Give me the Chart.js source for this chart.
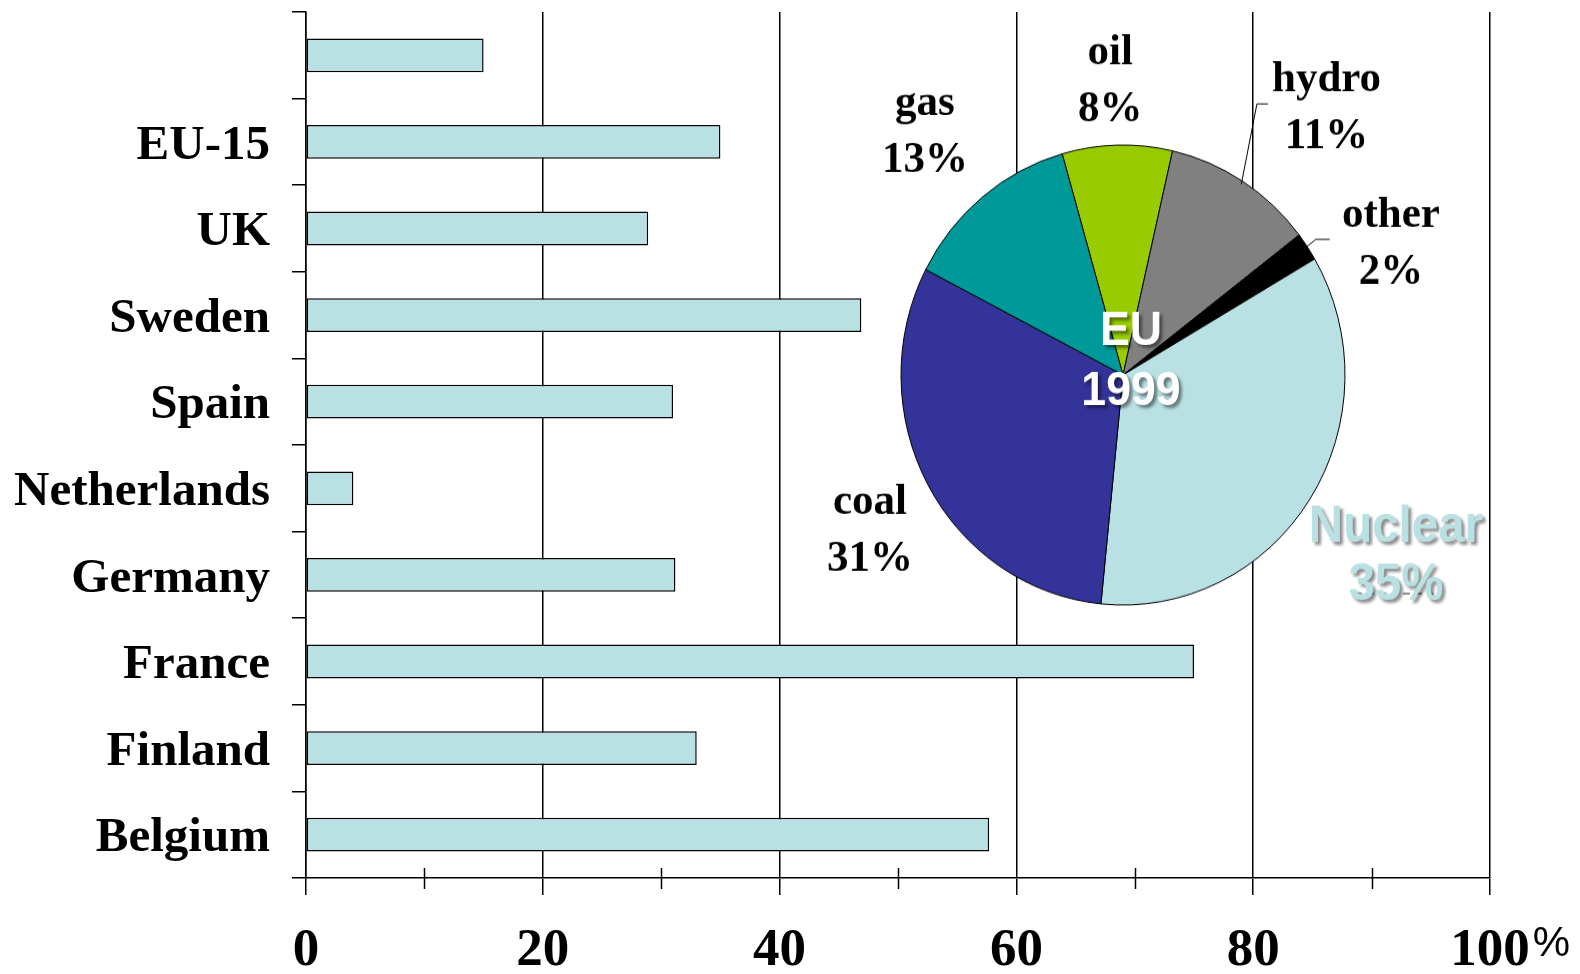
<!DOCTYPE html>
<html lang="en">
<head>
    <meta charset="UTF-8">
    <title>Nuclear share of electricity</title>
    <style>
        body {
            margin: 0;
            background: #fff;
        }
        .wrap {
            position: relative;
            width: 1580px;
            height: 974px;
        }
        #bar-chart {
            position: absolute;
            left: 0;
            top: 0;
        }
        /* pie is a touch taller than wide in the original */
        #pie-chart {
            position: absolute;
            left: 753px;
            top: 25px;
            transform: scaleY(1.036);
            transform-origin: 370px 350px;
        }
    </style>
</head>
<body>
<div class="wrap">
    <canvas id="bar-chart" width="1580" height="974"></canvas>
    <canvas id="pie-chart" width="740" height="700"></canvas>
</div>

<script src="https://cdn.jsdelivr.net/npm/chart.js"></script>
<script>
    // bar data: nuclear share of electricity, %
    const countries = ['', 'EU-15', 'UK', 'Sweden', 'Spain', 'Netherlands', 'Germany', 'France', 'Finland', 'Belgium'];
    const nuclearShare = [15, 35, 28.9, 46.9, 31, 4, 31.2, 75, 33, 57.7];
    const xTicks = [0, 20, 40, 60, 80, 100];
    const xMinorTicks = [10, 30, 50, 70, 90];

    // pie data: EU 1999 electricity by source, %
    const sources = ['oil', 'hydro', 'other', 'Nuclear', 'coal', 'gas'];
    const sourceShare = [8, 11, 2, 35, 31, 13];
    const sourceColors = ['#99cc00', '#808080', '#000000', '#b9e0e3', '#333399', '#009999'];

    // label placement around the pie: shift from mid angle (deg) and distance from centre
    const labelShift = [-1.2, 6.8, 10.5, 2, -4, -2.2];
    const labelDist = [273, 320, 292, 332, 300, 299];
    // leader lines: [elbow angle shift, elbow distance, horizontal length]
    const leaders = [null, [-5.6, 294, 11], [-0.3, 233, 14], null, null, null];

    const SERIF = "'Times New Roman', 'Liberation Serif', serif";
    const SANS = "Arial, 'Liberation Sans', sans-serif";
    const BAR_FILL = '#b9e0e3';

    // short ticks at 10, 30, ... crossing the x axis, plus the % sign after 100
    const axisExtras = {
        id: 'axisExtras',
        afterDraw(chart) {
            const ctx = chart.ctx;
            const xs = chart.scales.x;
            const y0 = xs.top;
            ctx.save();
            ctx.strokeStyle = '#000';
            ctx.lineWidth = 1.5;
            xMinorTicks.forEach(v => {
                const px = Math.round(xs.getPixelForValue(v)) + 0.5;
                ctx.beginPath();
                ctx.moveTo(px, y0 - 10);
                ctx.lineTo(px, y0 + 11);
                ctx.stroke();
            });
            ctx.font = 'bold 53px ' + SERIF;
            const w = ctx.measureText('100').width;
            ctx.font = '42px ' + SANS;
            ctx.fillStyle = '#000';
            ctx.textBaseline = 'alphabetic';
            ctx.fillText('%', xs.getPixelForValue(100) + w / 2 + 3, 956);
            ctx.restore();
        }
    };

    new Chart(document.getElementById('bar-chart'), {
        type: 'bar',
        data: {
            labels: countries,
            datasets: [{
                data: nuclearShare,
                backgroundColor: BAR_FILL,
                borderColor: '#000',
                borderWidth: 1.5,
                borderSkipped: false,
                barPercentage: 0.39,
                categoryPercentage: 1
            }]
        },
        options: {
            indexAxis: 'y',
            responsive: false,
            animation: false,
            layout: { padding: { top: 12, right: 90, left: 0, bottom: 0 } },
            plugins: {
                legend: { display: false },
                tooltip: { enabled: false }
            },
            scales: {
                x: {
                    min: 0,
                    max: 100,
                    afterBuildTicks: s => {
                        s.ticks = xTicks.concat(xMinorTicks).sort((a, b) => a - b).map(v => ({ value: v }));
                    },
                    afterFit: s => {
                        s.height = 96;
                        s.paddingLeft = 0;
                        s.paddingRight = 0;
                    },
                    ticks: {
                        autoSkip: false,
                        maxRotation: 0,
                        padding: 30,
                        color: '#000',
                        font: { family: SERIF, weight: 'bold', size: 53, lineHeight: 1 },
                        callback: v => xTicks.includes(v) ? String(v) : ''
                    },
                    grid: {
                        color: c => c.tick && xTicks.includes(c.tick.value) ? '#000' : 'rgba(0,0,0,0)',
                        tickColor: c => c.tick && xTicks.includes(c.tick.value) ? '#000' : 'rgba(0,0,0,0)',
                        lineWidth: 1.5,
                        tickLength: 17
                    },
                    border: { color: '#000', width: 1.5 }
                },
                y: {
                    afterFit: s => {
                        s.width = 306;
                        s.paddingTop = 0;
                        s.paddingBottom = 0;
                    },
                    ticks: {
                        padding: 22,
                        labelOffset: 4,
                        color: '#000',
                        font: { family: SERIF, weight: 'bold', size: 49 }
                    },
                    grid: {
                        drawOnChartArea: false,
                        offset: true,
                        color: '#000',
                        lineWidth: 1.5,
                        tickLength: 14
                    },
                    border: { color: '#000', width: 1.5 }
                }
            }
        },
        plugins: [axisExtras]
    });

    function shadowText(ctx, text, x, y, sx) {
        ctx.save();
        ctx.translate(x, y);
        ctx.scale(sx, 1);
        ctx.shadowColor = 'rgba(0,0,0,0.45)';
        ctx.shadowOffsetX = 3;
        ctx.shadowOffsetY = 3;
        ctx.shadowBlur = 3;
        ctx.fillText(text, 0, 0);
        ctx.restore();
    }

    const pieLabels = {
        id: 'pieLabels',
        afterDatasetsDraw(chart) {
            const ctx = chart.ctx;
            const arcs = chart.getDatasetMeta(0).data;
            ctx.save();
            ctx.textAlign = 'center';
            ctx.textBaseline = 'alphabetic';
            arcs.forEach((arc, i) => {
                const p = arc.getProps(['x', 'y', 'startAngle', 'endAngle', 'outerRadius'], true);
                const mid = (p.startAngle + p.endAngle) / 2;
                const a = mid + labelShift[i] * Math.PI / 180;
                const lx = p.x + Math.cos(a) * labelDist[i];
                const ly = p.y + Math.sin(a) * labelDist[i];

                const ld = leaders[i];
                if (ld) {
                    const ea = mid + ld[0] * Math.PI / 180;
                    const ex = p.x + Math.cos(ea) * ld[1];
                    const ey = p.y + Math.sin(ea) * ld[1];
                    ctx.strokeStyle = '#000';
                    ctx.lineWidth = 1;
                    ctx.beginPath();
                    ctx.moveTo(p.x + Math.cos(mid) * (p.outerRadius - 3), p.y + Math.sin(mid) * (p.outerRadius - 3));
                    ctx.lineTo(ex, ey);
                    ctx.lineTo(ex + ld[2], ey);
                    ctx.stroke();
                }

                if (sources[i] === 'Nuclear') {
                    // faint dashed leader sitting under the label
                    ctx.save();
                    ctx.setLineDash([7, 5]);
                    ctx.strokeStyle = '#222';
                    ctx.lineWidth = 1;
                    ctx.beginPath();
                    ctx.moveTo(lx - 41, ly + 22);
                    ctx.lineTo(lx + 37, ly + 22);
                    ctx.stroke();
                    ctx.restore();
                    ctx.fillStyle = BAR_FILL;
                    ctx.font = 'bold 50px ' + SANS;
                    shadowText(ctx, sources[i], lx, ly - 28, 0.95);
                    shadowText(ctx, sourceShare[i] + '%', lx, ly + 28, 0.95);
                } else {
                    ctx.fillStyle = '#000';
                    ctx.font = 'bold 43px ' + SERIF;
                    ctx.fillText(sources[i], lx, ly - 27.5);
                    ctx.fillText(sourceShare[i] + '%', lx, ly + 27.5);
                }
            });

            // centre caption
            const c = arcs[0];
            ctx.fillStyle = '#fff';
            ctx.font = 'bold 47px ' + SANS;
            shadowText(ctx, 'EU', c.x + 8, c.y - 29, 0.95);
            shadowText(ctx, '1999', c.x + 8, c.y + 29, 0.95);
            ctx.restore();
        }
    };

    new Chart(document.getElementById('pie-chart'), {
        type: 'pie',
        data: {
            labels: sources,
            datasets: [{
                data: sourceShare,
                backgroundColor: sourceColors,
                borderColor: '#000',
                borderWidth: 1
            }]
        },
        options: {
            responsive: false,
            animation: false,
            rotation: -15.9,
            radius: 222,
            plugins: {
                legend: { display: false },
                tooltip: { enabled: false }
            }
        },
        plugins: [pieLabels]
    });
</script>
</body>
</html>
